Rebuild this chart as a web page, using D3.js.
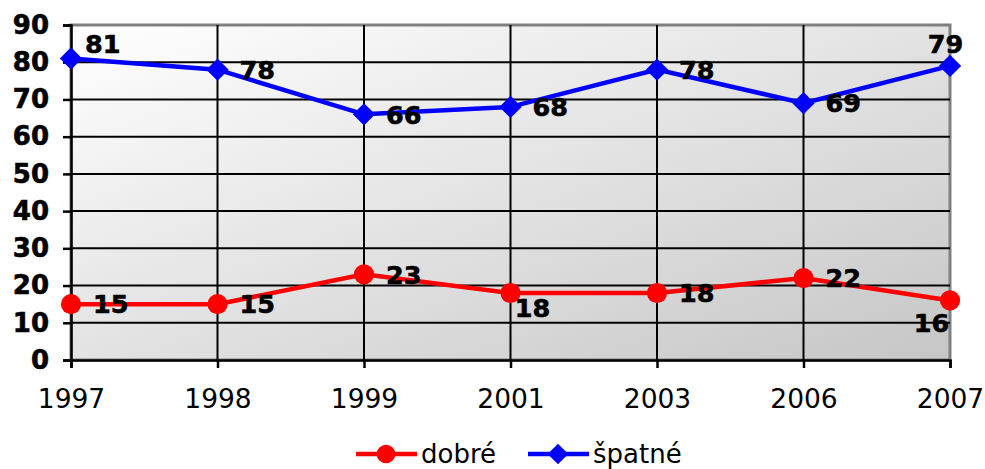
<!DOCTYPE html>
<html>
<head>
<meta charset="utf-8">
<script src="https://cdn.jsdelivr.net/npm/d3@7"></script>
<style>
  body { margin: 0; background: #fff; }
  text { font-family: "DejaVu Sans", Verdana, sans-serif; }
</style>
</head>
<body>
<script>
// data
var years = ["1997", "1998", "1999", "2001", "2003", "2006", "2007"];
var dobre = [15, 15, 23, 18, 18, 22, 16];
var spatne = [81, 78, 66, 68, 78, 69, 79];
var yTicks = [0, 10, 20, 30, 40, 50, 60, 70, 80, 90];

// where Excel put each data label
var dobrePlace = ["right", "right", "right", "belowRight", "right", "right", "belowLeft"];
var spatnePlace = ["aboveRight", "right", "right", "right", "right", "right", "above"];

var margin = {top: 25, right: 35, bottom: 109, left: 71},
    width = 985 - margin.left - margin.right,
    height = 469 - margin.top - margin.bottom;

var x = d3.scalePoint().domain(years).range([0, width]);
var y = d3.scaleLinear().domain([0, 90]).range([height, 0]);

var svg = d3.select("body").append("svg")
    .attr("width", 985)
    .attr("height", 469);

var defs = svg.append("defs");
var grad = defs.append("linearGradient")
    .attr("id", "bg")
    .attr("x1", "0%").attr("y1", "0%")
    .attr("x2", "100%").attr("y2", "100%");
grad.append("stop").attr("offset", "0%").attr("stop-color", "#ffffff");
grad.append("stop").attr("offset", "100%").attr("stop-color", "#c6c6c6");

var g = svg.append("g")
    .attr("transform", "translate(" + margin.left + "," + margin.top + ")");

// plot area
g.append("rect")
    .attr("width", width)
    .attr("height", height)
    .attr("fill", "url(#bg)")
    .attr("stroke", "#808080")
    .attr("stroke-width", 3);

// grid lines
g.selectAll(".hgrid")
    .data(yTicks.slice(1, -1))
  .enter().append("line")
    .attr("x1", 0).attr("x2", width)
    .attr("y1", function(d) { return y(d); })
    .attr("y2", function(d) { return y(d); })
    .attr("stroke", "#000").attr("stroke-width", 2);

g.selectAll(".vgrid")
    .data(years.slice(1, -1))
  .enter().append("line")
    .attr("y1", 0).attr("y2", height)
    .attr("x1", function(d) { return x(d); })
    .attr("x2", function(d) { return x(d); })
    .attr("stroke", "#000").attr("stroke-width", 2);

// axes
var yAxis = g.append("g")
    .call(d3.axisLeft(y).tickValues(yTicks).tickSize(8).tickPadding(14));
var xAxis = g.append("g")
    .attr("transform", "translate(0," + height + ")")
    .call(d3.axisBottom(x).tickSize(8).tickPadding(21));

[yAxis, xAxis].forEach(function(a) {
  a.select(".domain").attr("stroke", "#000").attr("stroke-width", 2.5);
  a.selectAll(".tick line").attr("stroke", "#000").attr("stroke-width", 2.5);
  a.selectAll("text").attr("fill", "#000").style("font-family", "DejaVu Sans, sans-serif");
});
yAxis.selectAll("text").style("font-size", "26px").style("font-weight", "bold")
    .attr("stroke", "#000").attr("stroke-width", 0.6);
xAxis.selectAll("text").style("font-size", "26.5px");

// markers: circle for dobré, square turned 45° for špatné
var shapes = {
  circle: {type: d3.symbolCircle, size: 320, rot: 0},
  diamond: {type: d3.symbolSquare, size: 250, rot: 45}
};

var series = [
  {name: "dobré", values: dobre, place: dobrePlace, color: "#ff0000", marker: shapes.circle},
  {name: "špatné", values: spatne, place: spatnePlace, color: "#0000ff", marker: shapes.diamond}
];

var line = d3.line()
    .x(function(d, i) { return x(years[i]); })
    .y(function(d) { return y(d); });

// label offsets from the point: dx, dy, anchor
var offsets = {
  right: [22, 0, "start"],
  aboveRight: [14, -15, "start"],
  above: [-4.5, -22, "middle"],
  belowRight: [22, 15, "middle"],
  belowLeft: [-18.5, 22, "middle"]
};

series.forEach(function(s) {
  g.append("path")
      .datum(s.values)
      .attr("fill", "none")
      .attr("stroke", s.color)
      .attr("stroke-width", 4.5)
      .attr("d", line);

  g.selectAll(null)
      .data(s.values)
    .enter().append("path")
      .attr("transform", function(d, i) {
        return "translate(" + x(years[i]) + "," + y(d) + ") rotate(" + s.marker.rot + ")";
      })
      .attr("d", d3.symbol().type(s.marker.type).size(s.marker.size))
      .attr("fill", s.color);

  g.selectAll(null)
      .data(s.values)
    .enter().append("text")
      .attr("x", function(d, i) { return x(years[i]) + offsets[s.place[i]][0]; })
      .attr("y", function(d, i) { return y(d) + offsets[s.place[i]][1]; })
      .attr("dy", "0.36em")
      .attr("text-anchor", function(d, i) { return offsets[s.place[i]][2]; })
      .attr("stroke", "#000")
      .attr("stroke-width", 0.6)
      .style("font-size", "25.5px")
      .style("font-weight", "bold")
      .text(function(d) { return d; });
});

// legend
var legend = svg.append("g").attr("transform", "translate(356,454)");
var lx = [0, 172];
series.forEach(function(s, i) {
  var lg = legend.append("g").attr("transform", "translate(" + lx[i] + ",0)");
  lg.append("line")
      .attr("x1", 0).attr("x2", 61)
      .attr("stroke", s.color).attr("stroke-width", 4.5);
  lg.append("path")
      .attr("transform", "translate(30,0) rotate(" + s.marker.rot + ")")
      .attr("d", d3.symbol().type(s.marker.type).size(s.marker.size * 0.85))
      .attr("fill", s.color);
  lg.append("text")
      .attr("x", 65)
      .attr("dy", "0.36em")
      .style("font-size", "26px")
      .text(s.name);
});
</script>
</body>
</html>
